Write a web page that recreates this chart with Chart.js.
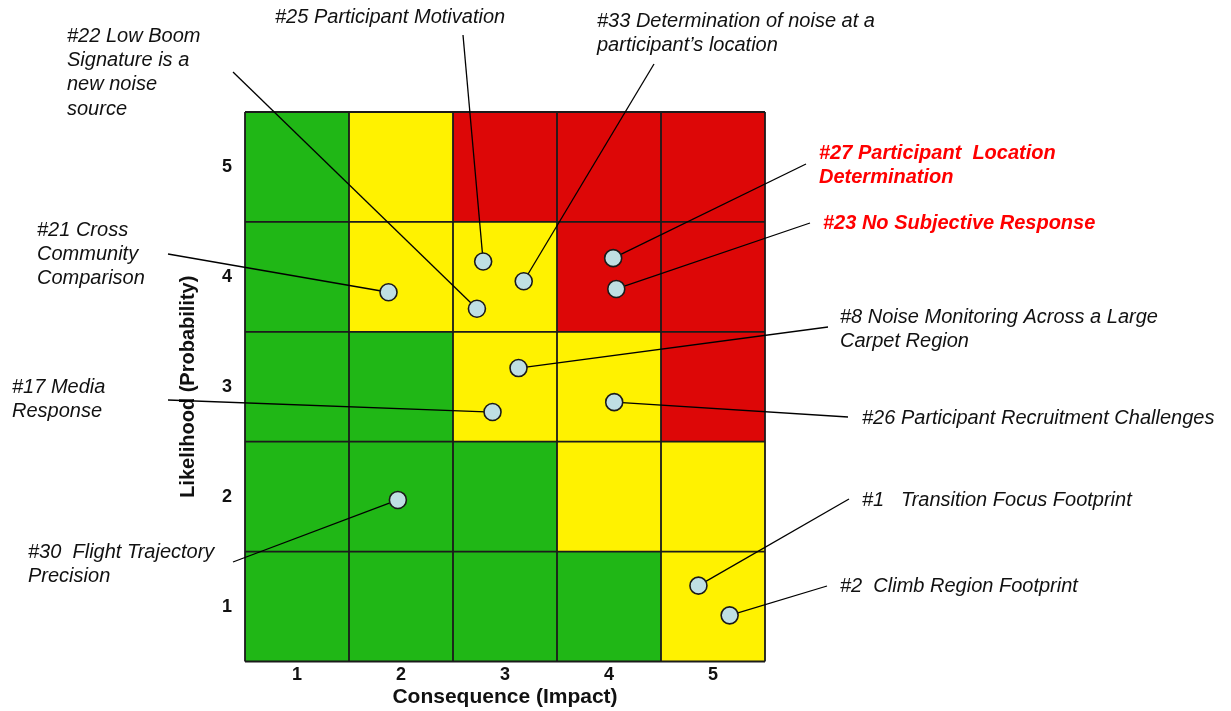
<!DOCTYPE html>
<html>
<head>
<meta charset="utf-8">
<script src="https://cdn.jsdelivr.net/npm/chart.js@4.4.1/dist/chart.umd.min.js"></script>
<style>
  html, body { margin: 0; padding: 0; background: #ffffff; }
  #wrap { width: 1231px; height: 711px; position: relative; }
</style>
</head>
<body>
<div id="wrap"><canvas id="riskChart"></canvas></div>
<script>
// Axis levels
const consequenceTicks = [1, 2, 3, 4, 5];
const likelihoodTicks = [1, 2, 3, 4, 5];

// Risk zone of each cell, rows from likelihood 1 (bottom) to 5 (top)
const zoneRows = [
  ['G', 'G', 'G', 'G', 'Y'],
  ['G', 'G', 'G', 'Y', 'Y'],
  ['G', 'G', 'Y', 'Y', 'R'],
  ['G', 'Y', 'Y', 'R', 'R'],
  ['G', 'Y', 'R', 'R', 'R']
];

// Risk items
const riskIds = ['#25', '#33', '#22', '#21', '#27', '#23', '#8', '#17', '#26', '#30', '#1', '#2'];
const consequence = [2.79, 3.18, 2.73, 1.88, 4.04, 4.07, 3.13, 2.88, 4.05, 1.97, 4.86, 5.16];
const likelihood  = [4.14, 3.96, 3.71, 3.86, 4.17, 3.89, 3.17, 2.77, 2.86, 1.97, 1.19, 0.92];
const riskTitles = [
  ['#25 Participant Motivation'],
  ['#33 Determination of noise at a', 'participant\u2019s location'],
  ['#22 Low Boom', 'Signature is a', 'new noise', 'source'],
  ['#21 Cross', 'Community', 'Comparison'],
  ['#27 Participant  Location', 'Determination'],
  ['#23 No Subjective Response'],
  ['#8 Noise Monitoring Across a Large', 'Carpet Region'],
  ['#17 Media', 'Response'],
  ['#26 Participant Recruitment Challenges'],
  ['#30  Flight Trajectory', 'Precision'],
  ['#1   Transition Focus Footprint'],
  ['#2  Climb Region Footprint']
];
const highlightedRisks = ['#27', '#23'];

// Callout placement on the canvas: text origin and leader line end
const calloutLayout = {
  '#25': { tx: 275, ty: 17,  lx: 463, ly: 35 },
  '#33': { tx: 597, ty: 21,  lx: 654, ly: 64 },
  '#22': { tx: 67,  ty: 36,  lx: 233, ly: 72 },
  '#21': { tx: 37,  ty: 230, lx: 168, ly: 254 },
  '#27': { tx: 819, ty: 153, lx: 806, ly: 164 },
  '#23': { tx: 823, ty: 223, lx: 810, ly: 223 },
  '#8':  { tx: 840, ty: 317, lx: 828, ly: 327 },
  '#17': { tx: 12,  ty: 387, lx: 168, ly: 400 },
  '#26': { tx: 862, ty: 418, lx: 848, ly: 417 },
  '#30': { tx: 28,  ty: 552, lx: 233, ly: 562 },
  '#1':  { tx: 862, ty: 500, lx: 849, ly: 499 },
  '#2':  { tx: 840, ty: 586, lx: 827, ly: 586 }
};
const calloutLineHeight = 24.4;

const zoneColors = { G: '#20b716', Y: '#fff200', R: '#dd0707' };

const riskGrid = {
  id: 'riskGrid',
  beforeDatasetsDraw(chart) {
    const { ctx, scales: { x, y } } = chart;
    ctx.save();
    // coloured cells
    zoneRows.forEach((row, r) => {
      row.forEach((zone, c) => {
        const k = consequenceTicks[c], l = likelihoodTicks[r];
        const x0 = x.getPixelForValue(k - 0.5), x1 = x.getPixelForValue(k + 0.5);
        const y0 = y.getPixelForValue(l + 0.5), y1 = y.getPixelForValue(l - 0.5);
        ctx.fillStyle = zoneColors[zone];
        ctx.fillRect(x0, y0, x1 - x0, y1 - y0);
      });
    });
    // cell borders
    ctx.strokeStyle = '#1b1b1b';
    ctx.lineWidth = 1.8;
    const xs = [consequenceTicks[0] - 0.5, ...consequenceTicks.map(v => v + 0.5)];
    const ys = [likelihoodTicks[0] - 0.5, ...likelihoodTicks.map(v => v + 0.5)];
    const top = y.getPixelForValue(ys[ys.length - 1]), bottom = y.getPixelForValue(ys[0]);
    const left = x.getPixelForValue(xs[0]), right = x.getPixelForValue(xs[xs.length - 1]);
    ctx.beginPath();
    xs.forEach(v => { const px = x.getPixelForValue(v); ctx.moveTo(px, top); ctx.lineTo(px, bottom); });
    ys.forEach(v => { const py = y.getPixelForValue(v); ctx.moveTo(left, py); ctx.lineTo(right, py); });
    ctx.stroke();
    // leader lines from each risk to its callout
    ctx.strokeStyle = '#000000';
    ctx.lineWidth = 1.3;
    riskIds.forEach((id, i) => {
      const pos = calloutLayout[id];
      ctx.beginPath();
      ctx.moveTo(x.getPixelForValue(consequence[i]), y.getPixelForValue(likelihood[i]));
      ctx.lineTo(pos.lx, pos.ly);
      ctx.stroke();
    });
    ctx.restore();
  },
  afterDraw(chart) {
    const { ctx } = chart;
    ctx.save();
    ctx.textBaseline = 'middle';
    ctx.textAlign = 'left';
    riskIds.forEach((id, i) => {
      const pos = calloutLayout[id];
      const hot = highlightedRisks.includes(id);
      ctx.font = (hot ? 'italic bold ' : 'italic ') + '20px "Liberation Sans", Arial, sans-serif';
      ctx.fillStyle = hot ? '#ff0000' : '#111111';
      riskTitles[i].forEach((line, j) => {
        ctx.fillText(line, pos.tx, pos.ty + j * calloutLineHeight);
      });
    });
    ctx.restore();
  }
};

const fontFamily = '"Liberation Sans", Arial, sans-serif';
const tickFont = { family: fontFamily, size: 18, weight: 'bold' };

new Chart(document.getElementById('riskChart'), {
  type: 'scatter',
  data: {
    datasets: [{
      label: 'Risks',
      data: riskIds.map((id, i) => ({ x: consequence[i], y: likelihood[i] })),
      backgroundColor: '#bfdfe3',
      borderColor: '#1a1a1a',
      borderWidth: 1.6,
      pointRadius: 8.5,
      pointHoverRadius: 8.5
    }]
  },
  options: {
    responsive: true,
    maintainAspectRatio: false,
    animation: false,
    layout: { padding: { left: 172, right: 466, top: 112, bottom: 0 } },
    plugins: { legend: { display: false }, tooltip: { enabled: false } },
    scales: {
      x: {
        type: 'linear',
        min: 0.5, max: 5.5,
        afterBuildTicks(scale) { scale.ticks = consequenceTicks.map(v => ({ value: v })); },
        afterFit(scale) { scale.height = 49.5; },
        grid: { display: false, drawTicks: false },
        border: { display: false },
        ticks: { color: '#111111', font: tickFont, padding: 3 },
        title: { display: true, text: 'Consequence (Impact)', color: '#111111',
                 font: { family: fontFamily, size: 21, weight: 'bold' }, padding: { top: 0, bottom: 1.5 } }
      },
      y: {
        type: 'linear',
        min: 0.5, max: 5.5,
        afterBuildTicks(scale) { scale.ticks = likelihoodTicks.map(v => ({ value: v })); },
        afterFit(scale) { scale.width = 73; },
        grid: { display: false, drawTicks: false },
        border: { display: false },
        ticks: { color: '#111111', font: tickFont, padding: 13 },
        title: { display: true, text: 'Likelihood (Probability)', color: '#111111',
                 font: { family: fontFamily, size: 20, weight: 'bold' }, padding: { top: 4, bottom: 4 } }
      }
    }
  },
  plugins: [riskGrid]
});
</script>
</body>
</html>
